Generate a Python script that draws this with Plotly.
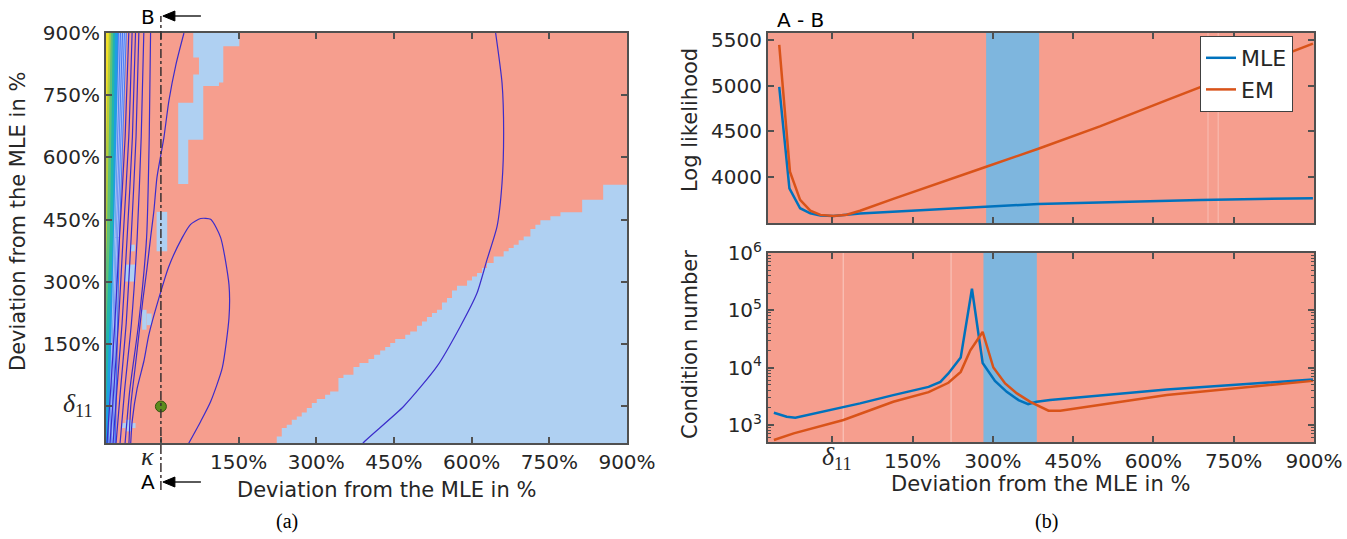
import plotly.graph_objects as go

# ================= DATA : panel (a) =================
# staircase border of the large light-blue region (lower right), below/right is blue
BLUE_BOUND_X = [212.7, 223.7, 233.4, 243.0, 252.7, 262.4, 272.0, 281.7, 291.4, 301.0, 317.1, 326.8,
                342.8, 352.5, 371.8, 383.4, 400.8, 411.8, 423.4, 433.1, 442.8, 452.4, 471.8, 481.4,
                494.4, 504.1, 513.7, 523.4, 533.1, 542.7, 552.4, 562.1, 571.7, 591.1, 600.7, 610.4,
                620.1, 629.7, 642.5, 661.8, 671.5, 681.2, 690.8, 700.5, 713.5, 723.1, 732.8, 752.1,
                771.5, 810.1, 813.4, 852.1, 854.0, 905.0]
BLUE_BOUND_Y = [-95, -72.3, -52.1, -44.1, -32.1, -24.1, -14.5, -3.9, 8.2, 17.8, 28.2, 36.2,
                68.5, 76.4, 95.0, 104.7, 114.3, 124.7, 135.0, 143.2, 152.9, 162.5, 172.9, 180.9,
                194.6, 205.0, 215.6, 225.2, 233.2, 250.8, 261.4, 279.7, 291.1, 303.8, 313.5, 321.7,
                333.7, 345.8, 361.7, 373.8, 382.0, 389.9, 400.3, 409.9, 427.8, 438.1, 448.5, 458.2,
                467.8, 467.8, 498.0, 498.0, 534.6, 534.6]

UPPER_PATCH_X = [62.5, 151.4, 151.4, 120.5, 120.5, 112.1, 112.1, 81.8, 81.8, 52.8, 52.8, 33.4,
                 33.4, 62.5, 62.5, 73.5, 73.5, 62.5]
UPPER_PATCH_Y = [905, 905, 868, 868, 781, 781, 772, 772, 643, 643, 536, 536,
                 732, 732, 800, 800, 841, 841]

PATCH_X0 = [-8.3, -36.2, -27.7, -70.0, -58.6, -74.8, -68.3]
PATCH_X1 = [12.2, -27.7, -18.0, -48.9, -50.3, -48.9, -57.4]
PATCH_Y0 = [374, 185, 196, 301, 374, -52, -60]
PATCH_Y1 = [469, 233, 224, 342, 390, -40, -32]

# colour bands of the filled contour at the far left (x of each band edge at BAND_Y)
BAND_Y = [905, 407, -95]
BAND_EDGES = [
    [-65.7, -79.3, -87.0],    # blue | salmon
    [-83.1, -87.0, -102.5],   # cyan | blue
    [-88.9, -92.8, -108.3],   # teal | cyan
    [-92.8, -98.6, -114.1],   # green | teal
    [-96.7, -104.4, -117.9],  # yellow-green | green
    [-100.5, -110.2, -121.8], # yellow | yellow-green
]
BAND_COLORS = ["#4472F2", "#1E9EE2", "#22B5AC", "#5EC07A", "#B4CB3D", "#F2DF2A"]

# contour lines (x, y)
LINE_L1 = ([44.5, 29.0, 15.5, 5.8, 0.0, -7.7, -13.5, -19.9, -27.1, -34.8, -42.5, -50.3, -58.0, -61.9],
           [900, 824, 737, 648, 607, 551, 472, 407, 330, 257, 173, 88, 4, -95])
LINE_L2 = ([-19.9, -22.5, -27.6, -43.0, -60.0, -69.6], [905, 650, 407, 200, 40, -95])
LINE_L3 = ([-32.9, -38.0, -45.8, -57.0, -70.0, -79.3], [905, 650, 407, 200, 40, -95])
LINE_L4 = ([-42.5, -48.0, -57.4, -67.0, -78.0, -87.0], [905, 650, 407, 200, 40, -95])
LINE_L5 = ([-48.9, -55.0, -65.2, -75.0, -85.0, -92.8], [905, 650, 407, 200, 40, -95])
LINE_L6 = ([-55.5, -62.0, -72.9, -82.0, -91.0, -98.6], [905, 650, 407, 200, 40, -95])
LINE_L7 = ([-61.9, -69.0, -79.9, -89.0, -97.0, -104.4], [905, 650, 407, 200, 40, -95])
LINE_U = ([-58.6, -55.5, -45.8, -32.9, -23.2, -3.9, 15.5, 41.2, 57.4, 76.8, 96.1, 115.4,
           131.5, 131.5, 118.5, 96.1, 76.8, 50.9],
          [-95, -36, 44, 109, 173, 261, 338, 407, 439, 453, 451, 407,
           293, 214, 93, 12, -36, -95])
LINE_RIGHT = ([645.8, 658.7, 661.8, 658.7, 649.1, 629.7, 610.4, 578.1, 533.1, 468.5, 391.2, 387.0],
              [905, 779.8, 659.3, 538.7, 434, 353.7, 273.4, 192.9, 96.5, 0, -86.8, -95])
LIGHT_LINES = [
    ([-80.0, -90.0, -100.0], [905, 407, -95]),
    ([-76.0, -87.5, -97.0], [905, 407, -95]),
    ([-72.0, -85.0, -94.0], [905, 407, -95]),
    ([-68.5, -82.0, -91.0], [905, 407, -95]),
]
DARK_LINES = [LINE_L1, LINE_L2, LINE_L3, LINE_L4, LINE_L5, LINE_L6, LINE_L7, LINE_U, LINE_RIGHT]

MLE_POINT = ([0], [0])

AX_TICKS = [150, 300, 450, 600, 750, 900]
AX_TICKTEXT = ["150%", "300%", "450%", "600%", "750%", "900%"]

# ================= DATA : panel (b) =================
LL_MLE_X = [-99, -80, -60, -41, -22, 2, 52, 289, 385, 687, 898]
LL_MLE_Y = [4990, 3876, 3657, 3602, 3576, 3573, 3598, 3675, 3704, 3748, 3767]
LL_EM_X = [-99, -79, -60, -41, -22, 2, 27, 52, 114, 177, 239, 289, 385, 500, 625, 687, 898]
LL_EM_Y = [5450, 4058, 3748, 3631, 3584, 3573, 3586, 3630, 3760, 3890, 4015, 4115, 4310, 4555,
           4843, 4985, 5464]

CN_MLE_X = [-109, -85, -69, -10, 52, 114, 180, 202, 217, 240, 261, 281, 304, 326, 348, 366, 382,
            407, 625, 898]
CN_MLE_Y = [1637, 1396, 1340, 1775, 2384, 3320, 4630, 5660, 7920, 15000, 238000, 12100, 5890,
            3790, 2720, 2320, 2540, 2720, 4170, 6240]
CN_EM_X = [-109, -72, 21, 114, 180, 217, 240, 258, 281, 301, 323, 345, 370, 404, 426, 625, 898]
CN_EM_Y = [548, 716, 1222, 2540, 3750, 5450, 8450, 20100, 42000, 10070, 5310, 3560, 2540, 1780,
           1780, 3330, 5890]

BAND_TOP = (287.5, 386.5)
BAND_BOTTOM = (282.5, 382.2)
FAINT_TOP = [702, 721]
FAINT_BOTTOM = [20.5, 222]

LL_TICKS = [4000, 4500, 5000, 5500]
CN_TICKS = [1e3, 1e4, 1e5, 1e6]
CN_TICKTEXT = ["10<sup>3</sup>", "10<sup>4</sup>", "10<sup>5</sup>", "10<sup>6</sup>"]

# ================= styling =================
W, H = 1347, 539
SALMON = "#F69E8E"
LIGHTBLUE = "#AFD0F2"
BANDBLUE = "#7EB6DE"
C_MLE = "#0072BD"
C_EM = "#D95319"
CONTOUR = "#3B2CCB"
AXC = "#505050"
FONT = "DejaVu Sans"
SERIF = "Liberation Serif"


def fx(p):
    return p / W


def fy(p):
    return 1 - p / H


fig = go.Figure()

# ---- panel (a) ----
for edge, col in zip(BAND_EDGES, BAND_COLORS):
    xs = [-140] + edge + [-140]
    ys = [BAND_Y[0]] + BAND_Y + [BAND_Y[-1]]
    fig.add_trace(go.Scatter(x=xs, y=ys, fill="toself", fillcolor=col, mode="lines",
                             line=dict(width=0, color=col), showlegend=False, hoverinfo="skip",
                             xaxis="x", yaxis="y"))

fig.add_trace(go.Scatter(x=BLUE_BOUND_X + [905, 212.7], y=BLUE_BOUND_Y + [-95, -95],
                         fill="toself", fillcolor=LIGHTBLUE, mode="lines", line_shape="hv",
                         line=dict(width=0, color=LIGHTBLUE), showlegend=False, hoverinfo="skip",
                         xaxis="x", yaxis="y"))
fig.add_trace(go.Scatter(x=UPPER_PATCH_X, y=UPPER_PATCH_Y, fill="toself", fillcolor=LIGHTBLUE,
                         mode="lines", line=dict(width=0, color=LIGHTBLUE), showlegend=False,
                         hoverinfo="skip", xaxis="x", yaxis="y"))
for x0, x1, y0, y1 in zip(PATCH_X0, PATCH_X1, PATCH_Y0, PATCH_Y1):
    fig.add_trace(go.Scatter(x=[x0, x1, x1, x0], y=[y0, y0, y1, y1], fill="toself",
                             fillcolor=LIGHTBLUE, mode="lines", line=dict(width=0, color=LIGHTBLUE),
                             showlegend=False, hoverinfo="skip", xaxis="x", yaxis="y"))

for lx, ly in LIGHT_LINES:
    fig.add_trace(go.Scatter(x=lx, y=ly, mode="lines", line=dict(color="#A8BEF6", width=1),
                             showlegend=False, hoverinfo="skip", xaxis="x", yaxis="y"))
for lx, ly in DARK_LINES:
    fig.add_trace(go.Scatter(x=lx, y=ly, mode="lines", line=dict(color=CONTOUR, width=1.2,
                             shape="spline", smoothing=0.6),
                             showlegend=False, hoverinfo="skip", xaxis="x", yaxis="y"))

fig.add_trace(go.Scatter(x=MLE_POINT[0], y=MLE_POINT[1], mode="markers",
                         marker=dict(size=11, color="#5C8C1E", line=dict(color="#34520F", width=1)),
                         showlegend=False, hoverinfo="skip", xaxis="x", yaxis="y"))

# ---- panel (b) top ----
fig.add_trace(go.Scatter(x=LL_MLE_X, y=LL_MLE_Y, mode="lines", name="MLE",
                         line=dict(color=C_MLE, width=2.5), xaxis="x2", yaxis="y2"))
fig.add_trace(go.Scatter(x=LL_EM_X, y=LL_EM_Y, mode="lines", name="EM",
                         line=dict(color=C_EM, width=2.5), xaxis="x2", yaxis="y2"))
# ---- panel (b) bottom ----
fig.add_trace(go.Scatter(x=CN_MLE_X, y=CN_MLE_Y, mode="lines", name="MLE", showlegend=False,
                         line=dict(color=C_MLE, width=2.5), xaxis="x3", yaxis="y3"))
fig.add_trace(go.Scatter(x=CN_EM_X, y=CN_EM_Y, mode="lines", name="EM", showlegend=False,
                         line=dict(color=C_EM, width=2.5), xaxis="x3", yaxis="y3"))

# ---- shapes ----
shapes = [
    dict(type="rect", xref="x2", yref="y2 domain", x0=BAND_TOP[0], x1=BAND_TOP[1], y0=0, y1=1,
         fillcolor=BANDBLUE, line=dict(width=0), layer="below"),
    dict(type="rect", xref="x3", yref="y3 domain", x0=BAND_BOTTOM[0], x1=BAND_BOTTOM[1], y0=0,
         y1=1, fillcolor=BANDBLUE, line=dict(width=0), layer="below"),
    dict(type="line", xref="x", yref="paper", x0=0, x1=0, y0=fy(490), y1=fy(16),
         line=dict(color="#3A3030", width=1.5, dash="dashdot"), layer="above"),
]
for v in FAINT_TOP:
    shapes.append(dict(type="line", xref="x2", yref="y2 domain", x0=v, x1=v, y0=0, y1=1,
                       line=dict(color="rgba(255,255,255,0.35)", width=1), layer="below"))
for v in FAINT_BOTTOM:
    shapes.append(dict(type="line", xref="x3", yref="y3 domain", x0=v, x1=v, y0=0, y1=1,
                       line=dict(color="rgba(255,255,255,0.45)", width=1), layer="below"))
# arrows pointing at the A-B section line (pixel-sized paths anchored on x = 0)
for yy in (16, 482):
    shapes.append(dict(type="path", xref="x", yref="paper", xsizemode="pixel", ysizemode="pixel",
                       xanchor=0, yanchor=fy(yy), path="M 12,0 L 40,0",
                       line=dict(color="#000000", width=1.3), layer="above"))
    shapes.append(dict(type="path", xref="x", yref="paper", xsizemode="pixel", ysizemode="pixel",
                       xanchor=0, yanchor=fy(yy), path="M 2,0 L 14,-5 L 14,5 Z",
                       fillcolor="#000000", line=dict(color="#000000", width=1), layer="above"))

# ---- annotations ----
ann = []


def text(t, x, y, size=20, family=FONT, angle=0, color="#262626"):
    ann.append(dict(text=t, x=fx(x), y=fy(y), xref="paper", yref="paper", showarrow=False,
                    xanchor="center", yanchor="middle", textangle=angle,
                    font=dict(family=family, size=size, color=color)))


text("Deviation from the MLE in %", 18, 222, 21, angle=-90)
text("Deviation from the MLE in %", 386, 490, 21)
text("Log likelihood", 690, 120, 21, angle=-90)
text("Condition number", 690, 345, 21, angle=-90)
text("Deviation from the MLE in %", 1040, 484, 21)
text("A - B", 800, 20, 20, color="#000000")
text("B", 148, 17, 20, color="#000000")
text("A", 148, 482, 20, color="#000000")
text("<i>κ</i>", 147, 456, 26, family=SERIF, color="#262626")
text("<i>δ</i><sub>11</sub>", 78, 405, 26, family=SERIF)
text("<i>δ</i><sub>11</sub>", 837, 458, 26, family=SERIF)
text("(a)", 287, 521, 20, family=SERIF, color="#000000")
text("(b)", 1046, 521, 20, family=SERIF, color="#000000")

axis_common = dict(showline=True, linecolor=AXC, linewidth=2, mirror="ticks", ticks="inside",
                   ticklen=6, tickwidth=2, tickcolor=AXC, showgrid=False, zeroline=False,
                   tickfont=dict(family=FONT, size=20, color="#262626"))
zero_minor = dict(tickmode="array", tickvals=[0], ticks="inside", ticklen=6, tickwidth=2,
                  tickcolor=AXC, showgrid=False)

fig.update_layout(
    width=W, height=H, margin=dict(l=0, r=0, t=0, b=0, autoexpand=False), autosize=False,
    paper_bgcolor="white", plot_bgcolor=SALMON,
    xaxis=dict(domain=[fx(106), fx(627)], range=[-106, 900], anchor="y", tickmode="array",
               tickvals=AX_TICKS, ticktext=AX_TICKTEXT, minor=zero_minor, **axis_common),
    yaxis=dict(domain=[fy(443), fy(33)], range=[-88, 900], anchor="x", tickmode="array",
               tickvals=AX_TICKS, ticktext=AX_TICKTEXT, minor=zero_minor, **axis_common),
    xaxis2=dict(domain=[fx(768), fx(1314)], range=[-120, 900], anchor="y2", tickmode="array",
                tickvals=AX_TICKS, showticklabels=False, minor=zero_minor, **axis_common),
    yaxis2=dict(domain=[fy(223), fy(33)], range=[3495, 5580], anchor="x2", tickmode="array",
                tickvals=LL_TICKS, ticktext=[str(v) for v in LL_TICKS], **axis_common),
    xaxis3=dict(domain=[fx(768), fx(1314)], range=[-120, 900], anchor="y3", tickmode="array",
                tickvals=AX_TICKS, ticktext=AX_TICKTEXT, minor=zero_minor, **axis_common),
    yaxis3=dict(domain=[fy(442), fy(253)], type="log", range=[2.704, 6], anchor="x3",
                tickmode="array", tickvals=CN_TICKS, ticktext=CN_TICKTEXT,
                minor=dict(ticks="inside", ticklen=3, tickwidth=1, tickcolor=AXC,
                           tickvals=[k * 10 ** e for e in range(2, 6) for k in range(2, 10)]),
                **axis_common),
    showlegend=True,
    legend=dict(x=fx(1200), y=fy(36), xanchor="left", yanchor="top", bgcolor="white",
                bordercolor="#404040", borderwidth=1, tracegroupgap=0,
                font=dict(family=FONT, size=22, color="#262626"), itemwidth=30),
    shapes=shapes, annotations=ann,
)

fig.write_html("out.html", config={"responsive": False, "displayModeBar": False},
               post_script="document.body.style.margin='0';"
                           "document.documentElement.style.overflow='hidden';")
